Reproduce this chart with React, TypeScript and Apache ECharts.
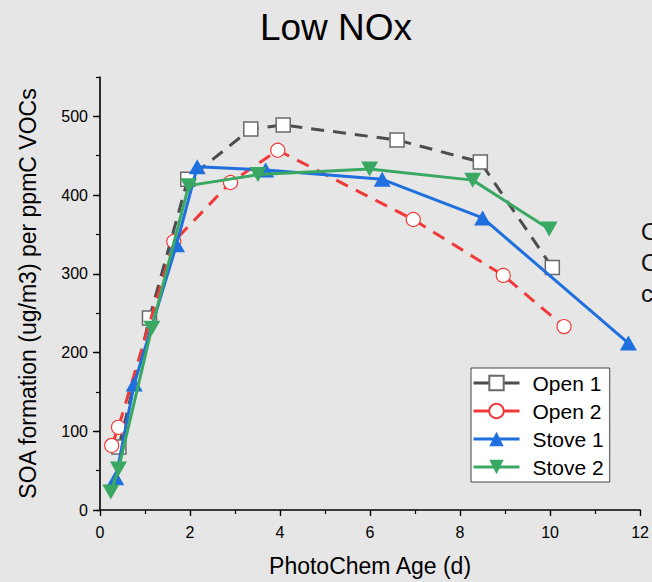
import React, { useEffect, useRef } from "react";
import * as echarts from "echarts";

const titleText = "Low NOx";
const xAxisName = "PhotoChem Age (d)";
const yAxisName = "SOA formation (ug/m3) per ppmC VOCs";
const seriesNames = ["Open 1", "Open 2", "Stove 1", "Stove 2"];

const open1X = [0.42, 1.1, 1.95, 3.35, 4.07, 6.6, 8.45, 10.05];
const open1Y = [80, 244, 420, 484, 489, 470, 442, 308];
const open2X = [0.26, 0.41, 1.64, 2.9, 3.95, 6.96, 8.96, 10.31];
const open2Y = [82, 105, 341, 416, 457, 369, 298, 233];
const stove1X = [0.35, 0.76, 1.7, 2.16, 3.68, 6.27, 8.5, 11.74];
const stove1Y = [41, 160, 337, 436, 432, 420, 371, 212];
const stove2X = [0.24, 0.41, 1.15, 1.97, 3.51, 5.99, 8.28, 9.98];
const stove2Y = [23, 52, 231, 412, 426, 433, 419, 357];

const yMajorTicks = [0, 100, 200, 300, 400, 500];
const clippedSideTexts = ["O", "O", "c"];

const FONT = "'Liberation Sans', Arial, sans-serif";

function pairs(xs: number[], ys: number[]) {
  return xs.map((x, i) => [x, ys[i]]);
}

export default function App() {
  const ref = useRef<HTMLDivElement>(null);
  useEffect(() => {
    document.body.style.margin = "0";
    const chart = echarts.init(ref.current!, null, { renderer: "svg" });
    chart.setOption({
      animation: false,
      backgroundColor: "#e6e6e6",
      textStyle: { fontFamily: FONT },
      title: {
        text: titleText,
        left: 331,
        textAlign: "center",
        top: 4,
        textStyle: { fontFamily: FONT, fontSize: 37, fontWeight: "normal", color: "#000" },
      },
      grid: { left: 100, right: 11, top: 77, bottom: 69, containLabel: false },
      legend: {
        orient: "vertical",
        left: 471,
        top: 368,
        width: 139,
        padding: [4, 6, 4, 1],
        itemWidth: 46,
        itemHeight: 18,
        itemGap: 6,
        backgroundColor: "#ffffff",
        borderColor: "#444",
        borderWidth: 1,
        borderRadius: 0,
        data: seriesNames,
        lineStyle: { type: "solid", width: 3 },
        textStyle: { fontFamily: FONT, fontSize: 21, color: "#000", lineHeight: 22, padding: [0, 0, 0, 8] },
      },
      xAxis: {
        type: "value",
        min: 0,
        max: 12,
        interval: 2,
        name: xAxisName,
        nameLocation: "middle",
        nameGap: 44,
        nameTextStyle: { fontFamily: FONT, fontSize: 23, color: "#000" },
        axisLine: { show: true, onZero: false, lineStyle: { color: "#000", width: 1.6 } },
        axisTick: { show: true, inside: false, length: 6, lineStyle: { color: "#000", width: 1.4 } },
        minorTick: { show: true, splitNumber: 2, length: 4, lineStyle: { color: "#000", width: 1.2 } },
        splitLine: { show: false },
        axisLabel: { fontFamily: FONT, fontSize: 16, color: "#000", margin: 14 },
      },
      yAxis: [
        {
          type: "value",
          min: 0,
          max: 550,
          interval: 50,
          name: yAxisName,
          nameLocation: "middle",
          nameGap: 61,
          nameTextStyle: { fontFamily: FONT, fontSize: 23, color: "#000" },
          axisLine: { show: true, onZero: false, lineStyle: { color: "#000", width: 1.6 } },
          axisTick: { show: true, inside: false, length: 4, lineStyle: { color: "#000", width: 1.2 } },
          splitLine: { show: false },
          axisLabel: {
            fontFamily: FONT,
            fontSize: 16,
            color: "#000",
            margin: 12,
            formatter: (v: number) => (yMajorTicks.indexOf(v) >= 0 ? String(v) : ""),
          },
        },
        {
          type: "value",
          min: 0,
          max: 550,
          interval: 100,
          position: "left",
          axisLine: { show: false },
          axisLabel: { show: false },
          splitLine: { show: false },
          axisTick: {
            show: true,
            inside: false,
            length: 7,
            customValues: yMajorTicks,
            lineStyle: { color: "#000", width: 1.4 },
          },
        },
      ],
      series: [
        {
          name: seriesNames[0],
          type: "line",
          yAxisIndex: 0,
          data: pairs(open1X, open1Y),
          symbol: "rect",
          symbolSize: 14,
          z: 2,
          itemStyle: { color: "#ffffff", borderColor: "#6a6a6a", borderWidth: 1.5 },
          lineStyle: { color: "#4d4d4d", width: 3, type: [13, 9] },
        },
        {
          name: seriesNames[1],
          type: "line",
          yAxisIndex: 0,
          data: pairs(open2X, open2Y),
          symbol: "circle",
          symbolSize: 14,
          z: 3,
          itemStyle: { color: "#ffffff", borderColor: "#f03a3a", borderWidth: 1.2 },
          lineStyle: { color: "#f03a3a", width: 3, type: [13, 9] },
        },
        {
          name: seriesNames[2],
          type: "line",
          yAxisIndex: 0,
          data: pairs(stove1X, stove1Y),
          symbol: "triangle",
          symbolSize: [17, 15],
          z: 4,
          itemStyle: { color: "#1f6fdf" },
          lineStyle: { color: "#1f6fdf", width: 3 },
        },
        {
          name: seriesNames[3],
          type: "line",
          yAxisIndex: 0,
          data: pairs(stove2X, stove2Y),
          symbol: "path://M0,0L20,0L10,17Z",
          symbolSize: [17, 15],
          z: 5,
          itemStyle: { color: "#38a862" },
          lineStyle: { color: "#38a862", width: 3 },
        },
      ],
      graphic: clippedSideTexts.map((t, i) => ({
        type: "text",
        left: 641,
        top: 219 + i * 31,
        style: { text: t, fontFamily: FONT, fontSize: 24, fill: "#111" },
      })),
    });
    return () => chart.dispose();
  }, []);
  return <div ref={ref} style={{ width: 652, height: 582 }} />;
}
